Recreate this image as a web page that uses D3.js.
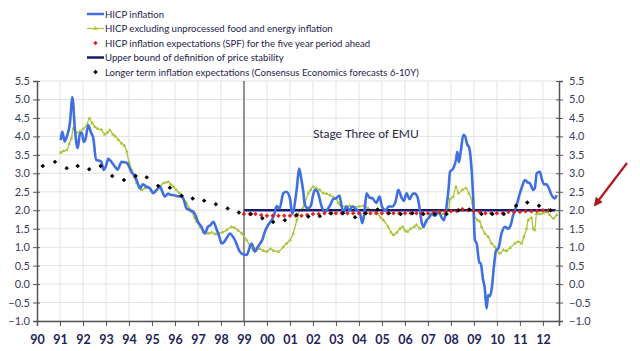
<!DOCTYPE html>
<html><head><meta charset="utf-8">
<script src="https://cdn.jsdelivr.net/npm/d3@7"></script>
<style>body{margin:0;background:#fff}svg{display:block;font-family:Lato,"Open Sans",sans-serif}</style>
</head><body><svg id="c" width="640" height="351"></svg>
<script>
const yearTicks = ["90","91","92","93","94","95","96","97","98","99","00","01","02","03","04","05","06","07","08","09","10","11","12"];
const valueTicks = [5.5,5.0,4.5,4.0,3.5,3.0,2.5,2.0,1.5,1.0,0.5,0.0,-0.5,-1.0];
const legendLabels = ["HICP inflation","HICP excluding unprocessed food and energy inflation","HICP inflation expectations (SPF) for the five year period ahead","Upper bound of definition of price stability","Longer term inflation expectations (Consensus Economics forecasts 6-10Y)"];
const annotationText = "Stage Three of EMU";

const hicpDates = [1991.03,1991.1,1991.2,1991.3,1991.43,1991.54,1991.65,1991.77,1991.87,1991.95,1992.03,1992.1,1992.23,1992.35,1992.45,1992.57,1992.68,1992.8,1992.9,1993.0,1993.1,1993.25,1993.39,1993.5,1993.68,1993.8,1993.93,1994.1,1994.22,1994.33,1994.48,1994.6,1994.77,1994.9,1995.06,1995.2,1995.35,1995.45,1995.57,1995.7,1995.8,1995.93,1996.1,1996.29,1996.4,1996.5,1996.65,1996.8,1996.9,1997.0,1997.15,1997.3,1997.43,1997.55,1997.67,1997.8,1997.92,1998.03,1998.15,1998.25,1998.39,1998.5,1998.6,1998.67,1998.8,1998.9,1999.0,1999.12,1999.33,1999.48,1999.6,1999.7,1999.8,1999.91,2000.05,2000.2,2000.3,2000.42,2000.55,2000.71,2000.85,2001.0,2001.1,2001.29,2001.4,2001.48,2001.58,2001.65,2001.8,2001.92,2002.0,2002.09,2002.2,2002.38,2002.5,2002.6,2002.75,2002.88,2003.0,2003.15,2003.25,2003.32,2003.45,2003.6,2003.7,2003.85,2003.93,2004.05,2004.15,2004.25,2004.33,2004.45,2004.6,2004.75,2004.9,2005.0,2005.15,2005.3,2005.45,2005.6,2005.71,2005.85,2005.95,2006.07,2006.2,2006.35,2006.43,2006.55,2006.65,2006.72,2006.8,2006.94,2007.05,2007.17,2007.3,2007.46,2007.6,2007.7,2007.81,2007.9,2007.96,2008.1,2008.22,2008.28,2008.35,2008.43,2008.54,2008.62,2008.7,2008.8,2008.9,2008.97,2009.04,2009.12,2009.23,2009.3,2009.4,2009.47,2009.55,2009.62,2009.7,2009.78,2009.87,2009.96,2010.07,2010.2,2010.35,2010.48,2010.6,2010.7,2010.86,2011.0,2011.1,2011.22,2011.35,2011.43,2011.58,2011.65,2011.73,2011.87,2011.95,2012.05,2012.15,2012.23,2012.38,2012.52,2012.6];
const hicpValues = [3.9,4.13,3.86,4.0,4.35,5.06,4.17,3.68,4.08,4.1,3.85,3.9,4.3,4.1,3.95,3.36,3.35,3.31,3.09,3.2,3.39,3.3,3.18,3.1,3.31,3.3,3.27,3.04,2.95,2.82,2.59,2.7,2.63,2.6,2.46,2.55,2.64,2.5,2.37,2.45,2.42,2.41,2.38,2.37,2.25,2.05,2.0,1.96,1.85,1.69,1.55,1.37,1.55,1.6,1.69,1.5,1.3,1.1,1.15,1.25,1.37,1.3,1.2,1.1,0.9,0.83,0.8,0.79,1.1,0.88,1.0,1.1,1.2,1.42,1.6,1.73,1.85,2.11,2.05,2.46,2.5,2.32,1.9,2.55,3.13,2.9,2.5,2.14,2.05,2.14,2.4,2.55,2.5,2.1,1.95,2.0,2.14,2.3,2.32,2.4,2.1,1.92,2.1,2.0,2.1,2.05,2.0,1.9,1.65,2.0,2.46,2.35,2.32,2.2,2.37,2.1,2.0,2.1,2.1,2.25,2.55,2.35,2.25,2.46,2.3,2.45,2.45,2.35,2.0,1.7,1.55,1.73,1.8,1.9,1.85,1.97,1.8,1.73,2.1,2.6,3.04,3.13,3.36,3.58,3.3,3.6,4.04,4.0,3.8,3.68,3.09,2.32,1.2,1.1,0.6,0.55,0.11,-0.1,-0.66,-0.3,-0.33,-0.1,0.47,0.9,0.98,1.37,1.55,1.5,1.6,1.85,2.14,2.46,2.65,2.82,2.75,2.73,2.55,2.6,3.0,3.04,2.85,2.7,2.7,2.64,2.41,2.32,2.41];

const coreDates = [1991.03,1991.15,1991.3,1991.4,1991.5,1991.58,1991.7,1991.85,1992.0,1992.16,1992.28,1992.4,1992.52,1992.65,1992.8,1992.95,1993.05,1993.17,1993.3,1993.4,1993.55,1993.68,1993.8,1993.9,1994.0,1994.12,1994.22,1994.33,1994.45,1994.55,1994.7,1994.83,1994.95,1995.13,1995.3,1995.49,1995.6,1995.71,1995.82,1995.93,1996.05,1996.2,1996.35,1996.5,1996.62,1996.72,1996.85,1996.94,1997.1,1997.23,1997.35,1997.45,1997.6,1997.75,1997.9,1998.05,1998.25,1998.46,1998.6,1998.75,1998.9,1999.12,1999.25,1999.4,1999.55,1999.7,1999.85,1999.99,2000.15,2000.3,2000.5,2000.7,2000.85,2001.0,2001.14,2001.3,2001.43,2001.55,2001.65,2001.8,2001.9,2002.01,2002.15,2002.3,2002.45,2002.6,2002.75,2002.9,2003.0,2003.1,2003.2,2003.43,2003.6,2003.75,2004.0,2004.2,2004.4,2004.58,2004.8,2004.95,2005.06,2005.27,2005.4,2005.5,2005.65,2005.78,2005.9,2006.0,2006.1,2006.25,2006.4,2006.5,2006.65,2006.8,2006.94,2007.1,2007.3,2007.5,2007.66,2007.9,2007.96,2008.1,2008.22,2008.33,2008.5,2008.65,2008.78,2008.93,2009.0,2009.16,2009.25,2009.33,2009.48,2009.62,2009.77,2009.92,2010.0,2010.13,2010.28,2010.42,2010.57,2010.78,2010.93,2011.07,2011.17,2011.29,2011.36,2011.5,2011.58,2011.65,2011.72,2011.87,2012.0,2012.16,2012.3,2012.45,2012.6];
const coreValues = [3.56,3.6,3.63,3.8,3.95,4.22,4.1,4.12,4.2,4.3,4.49,4.35,4.26,4.2,4.18,4.05,4.1,4.17,4.05,4.0,3.9,3.81,3.75,3.59,3.3,3.09,2.9,2.73,2.65,2.55,2.6,2.63,2.55,2.5,2.6,2.73,2.75,2.77,2.7,2.64,2.55,2.46,2.35,2.19,2.05,1.96,1.8,1.69,1.55,1.42,1.4,1.37,1.4,1.35,1.38,1.4,1.46,1.55,1.52,1.45,1.37,1.19,1.05,0.92,0.98,0.95,0.9,0.88,0.95,0.9,0.88,1.0,1.1,1.19,1.37,1.73,2.0,2.05,2.2,2.46,2.55,2.64,2.6,2.55,2.46,2.45,2.4,2.35,2.32,2.2,2.14,2.1,2.12,2.1,2.1,2.12,2.05,2.0,1.92,1.8,1.73,1.55,1.4,1.33,1.4,1.5,1.55,1.45,1.42,1.5,1.55,1.6,1.5,1.55,1.7,1.9,1.85,1.9,1.9,2.0,2.3,2.37,2.64,2.46,2.55,2.6,2.46,2.19,1.9,1.73,1.7,1.55,1.37,1.28,1.1,1.0,0.9,0.83,0.92,0.9,0.98,1.1,1.15,1.1,1.28,1.5,1.73,1.8,1.5,1.46,1.9,1.9,1.92,1.95,1.87,1.78,1.87];

const spfDates = [1999.0,1999.25,1999.5,1999.75,2000.0,2000.25,2000.5,2000.75,2001.0,2001.25,2001.5,2001.75,2002.0,2002.25,2002.5,2002.75,2003.0,2003.25,2003.5,2003.75,2004.0,2004.25,2004.5,2004.75,2005.0,2005.25,2005.5,2005.75,2006.0,2006.25,2006.5,2006.75,2007.0,2007.25,2007.5,2007.75,2008.0,2008.25,2008.5,2008.75,2009.0,2009.25,2009.5,2009.75,2010.0,2010.25,2010.5,2010.75,2011.0,2011.25,2011.5,2011.75,2012.0,2012.25];
const spfValues = [1.9,1.9,1.9,1.87,1.85,1.85,1.85,1.85,1.85,1.85,1.85,1.87,1.9,1.9,1.92,1.92,1.92,1.92,1.92,1.92,1.92,1.92,1.92,1.92,1.92,1.92,1.92,1.92,1.92,1.92,1.92,1.92,1.92,1.95,1.95,1.98,1.97,1.98,2.03,2.0,1.97,1.95,1.92,1.92,1.92,1.92,1.95,1.95,1.95,1.97,1.97,1.98,2.0,2.0];

const consensusDates = [1990.25,1990.78,1991.29,1991.77,1992.27,1992.77,1993.27,1993.78,1994.29,1994.77,1995.27,1995.78,1996.29,1996.77,1997.27,1997.78,1998.29,1998.78,1999.3,1999.8,2000.27,2000.78,2001.29,2001.8,2002.3,2002.79,2003.3,2003.83,2004.3,2004.81,2005.3,2005.81,2006.32,2006.8,2007.3,2007.81,2008.32,2008.8,2009.33,2009.8,2010.3,2010.83,2011.32,2011.83,2012.33];
const consensusValues = [3.2,3.31,3.14,3.2,3.11,3.2,2.93,2.82,2.93,2.89,2.66,2.61,2.39,2.32,2.26,2.16,2.05,1.94,1.9,1.78,1.68,1.73,1.87,1.83,1.84,1.92,1.92,1.81,1.92,2.02,1.92,1.9,1.92,1.9,1.9,1.9,2.0,2.02,1.9,1.9,1.9,2.12,2.21,2.12,2.0];

const upperBoundStart = 1999.0, upperBoundEnd = 2012.55, upperBoundValue = 2.0;
const emuStart = 1999.0;

const svg = d3.select("#c");
const x = d3.scaleLinear().domain([1990, 2012.7]).range([37, 559]);
const y = d3.scaleLinear().domain([-1, 5.5]).range([321, 81]);
const navy = "#23235a", axisCol = "#555";

// grid
const years = d3.range(1990, 2013);
svg.append("g").selectAll("line").data(years.slice(1)).join("line")
  .attr("x1", d=>x(d)).attr("x2", d=>x(d)).attr("y1", y(5.5)).attr("y2", y(-1))
  .attr("stroke", "#e2e2e2").attr("stroke-width", 1);
svg.append("g").selectAll("line").data(valueTicks).join("line")
  .attr("x1", x.range()[0]).attr("x2", x.range()[1]).attr("y1", d=>y(d)).attr("y2", d=>y(d))
  .attr("stroke", "#e2e2e2").attr("stroke-width", 1);

// axes
const yl = d3.axisLeft(y).tickValues(valueTicks).tickFormat(d3.format(".1f")).tickSize(4);
const yr = d3.axisRight(y).tickValues(valueTicks).tickFormat(d3.format(".1f")).tickSize(4);
const xb = d3.axisBottom(x).tickValues(years).tickFormat((d,i)=>yearTicks[i]).tickSize(5);
function style(g){ g.select(".domain").attr("stroke", axisCol).attr("stroke-width",1.5);
  g.selectAll(".tick line").attr("stroke", axisCol); }
const gl = svg.append("g").attr("transform",`translate(${x.range()[0]},0)`).call(yl).call(style);
gl.selectAll(".tick line").attr("x1",3);
gl.selectAll("text").attr("fill","#3a3a5c").attr("font-size",11).attr("x",-7).style("font-family","Lato,sans-serif");
const gr = svg.append("g").attr("transform",`translate(${x.range()[1]},0)`).call(yr).call(style);
gr.selectAll(".tick line").attr("x1",-3);
gr.selectAll("text").attr("fill","#3a3a5c").attr("font-size",11).attr("x",10).style("font-family","Lato,sans-serif");
const gb = svg.append("g").attr("transform",`translate(0,${y(-1)})`).call(xb).call(style);
gb.selectAll("text").attr("fill",navy).attr("font-size",12.5).attr("font-weight","bold").attr("y",14).style("font-family","Lato,sans-serif");

// EMU vertical line
svg.append("line").attr("x1",x(emuStart)).attr("x2",x(emuStart)).attr("y1",y(5.5)).attr("y2",y(-1))
  .attr("stroke","#555").attr("stroke-width",1.2);
svg.append("text").attr("x", x(2002.0)).attr("y", y(3.95)).text(annotationText)
  .attr("font-size",12).attr("fill","#2a2a4a");

const line = d3.line().x(d=>x(d[0])).y(d=>y(d[1])).curve(d3.curveMonotoneX);
const coreData = coreDates.map((d,i)=>[d, coreValues[i]]);
const hicpData = hicpDates.map((d,i)=>[d, hicpValues[i]]);
const diamond = d3.symbol(d3.symbolSquare, 10);

// core (green)
svg.append("path").datum(coreData).attr("d", line).attr("fill","none").attr("stroke","#a8c53a").attr("stroke-width",1.3);
svg.append("g").selectAll("path").data(coreData).join("path")
  .attr("d", d3.symbol(d3.symbolTriangle, 6)).attr("transform", d=>`translate(${x(d[0])},${y(d[1])})`).attr("fill","#a8c53a");

// upper bound
svg.append("line").attr("x1",x(upperBoundStart)).attr("x2",x(upperBoundEnd)).attr("y1",y(upperBoundValue)).attr("y2",y(upperBoundValue))
  .attr("stroke","#1a1a6e").attr("stroke-width",2.5);

// HICP blue
svg.append("path").datum(hicpData).attr("d", line).attr("fill","none").attr("stroke","#3f6fe0").attr("stroke-width",2.6).attr("stroke-linejoin","round");

// SPF red
svg.append("g").selectAll("path").data(spfDates.map((d,i)=>[d, spfValues[i]])).join("path")
  .attr("d", diamond).attr("transform", d=>`translate(${x(d[0])},${y(d[1])}) rotate(45)`).attr("fill","#e0201e");
// Consensus black
svg.append("g").selectAll("path").data(consensusDates.map((d,i)=>[d, consensusValues[i]])).join("path")
  .attr("d", diamond).attr("transform", d=>`translate(${x(d[0])},${y(d[1])}) rotate(45)`).attr("fill","#000");

// legend
const lg = svg.append("g");
const rowsY = [14, 28.5, 43, 57.5, 72];
legendLabels.forEach((t,i)=>{
  const yy = rowsY[i];
  if (i===0) lg.append("line").attr("x1",87).attr("x2",104).attr("y1",yy).attr("y2",yy).attr("stroke","#3f6fe0").attr("stroke-width",2.5);
  if (i===1) { lg.append("line").attr("x1",87).attr("x2",104).attr("y1",yy).attr("y2",yy).attr("stroke","#a8c53a").attr("stroke-width",1.2);
    lg.append("path").attr("d", d3.symbol(d3.symbolTriangle, 8)).attr("transform",`translate(95.5,${yy})`).attr("fill","#a8c53a"); }
  if (i===2) lg.append("path").attr("d", diamond).attr("transform",`translate(95.5,${yy}) rotate(45)`).attr("fill","#e0201e");
  if (i===3) lg.append("line").attr("x1",87).attr("x2",104).attr("y1",yy).attr("y2",yy).attr("stroke","#1a1a6e").attr("stroke-width",2.5);
  if (i===4) lg.append("path").attr("d", diamond).attr("transform",`translate(95.5,${yy}) rotate(45)`).attr("fill","#000");
  lg.append("text").attr("x", 105).attr("y", yy+3.5).text(t).attr("font-size",9.6).attr("fill","#23234a");
});

// red arrow
const defs = svg.append("defs");
defs.append("marker").attr("id","ah").attr("viewBox","0 0 10 10").attr("refX",8).attr("refY",5)
  .attr("markerWidth",4).attr("markerHeight",4).attr("orient","auto")
  .append("path").attr("d","M0,0L10,5L0,10z").attr("fill","#b3191c");
svg.append("line").attr("x1",627).attr("y1",163).attr("x2",595).attr("y2",205)
  .attr("stroke","#b3191c").attr("stroke-width",2.2).attr("marker-end","url(#ah)");
</script></body></html>
